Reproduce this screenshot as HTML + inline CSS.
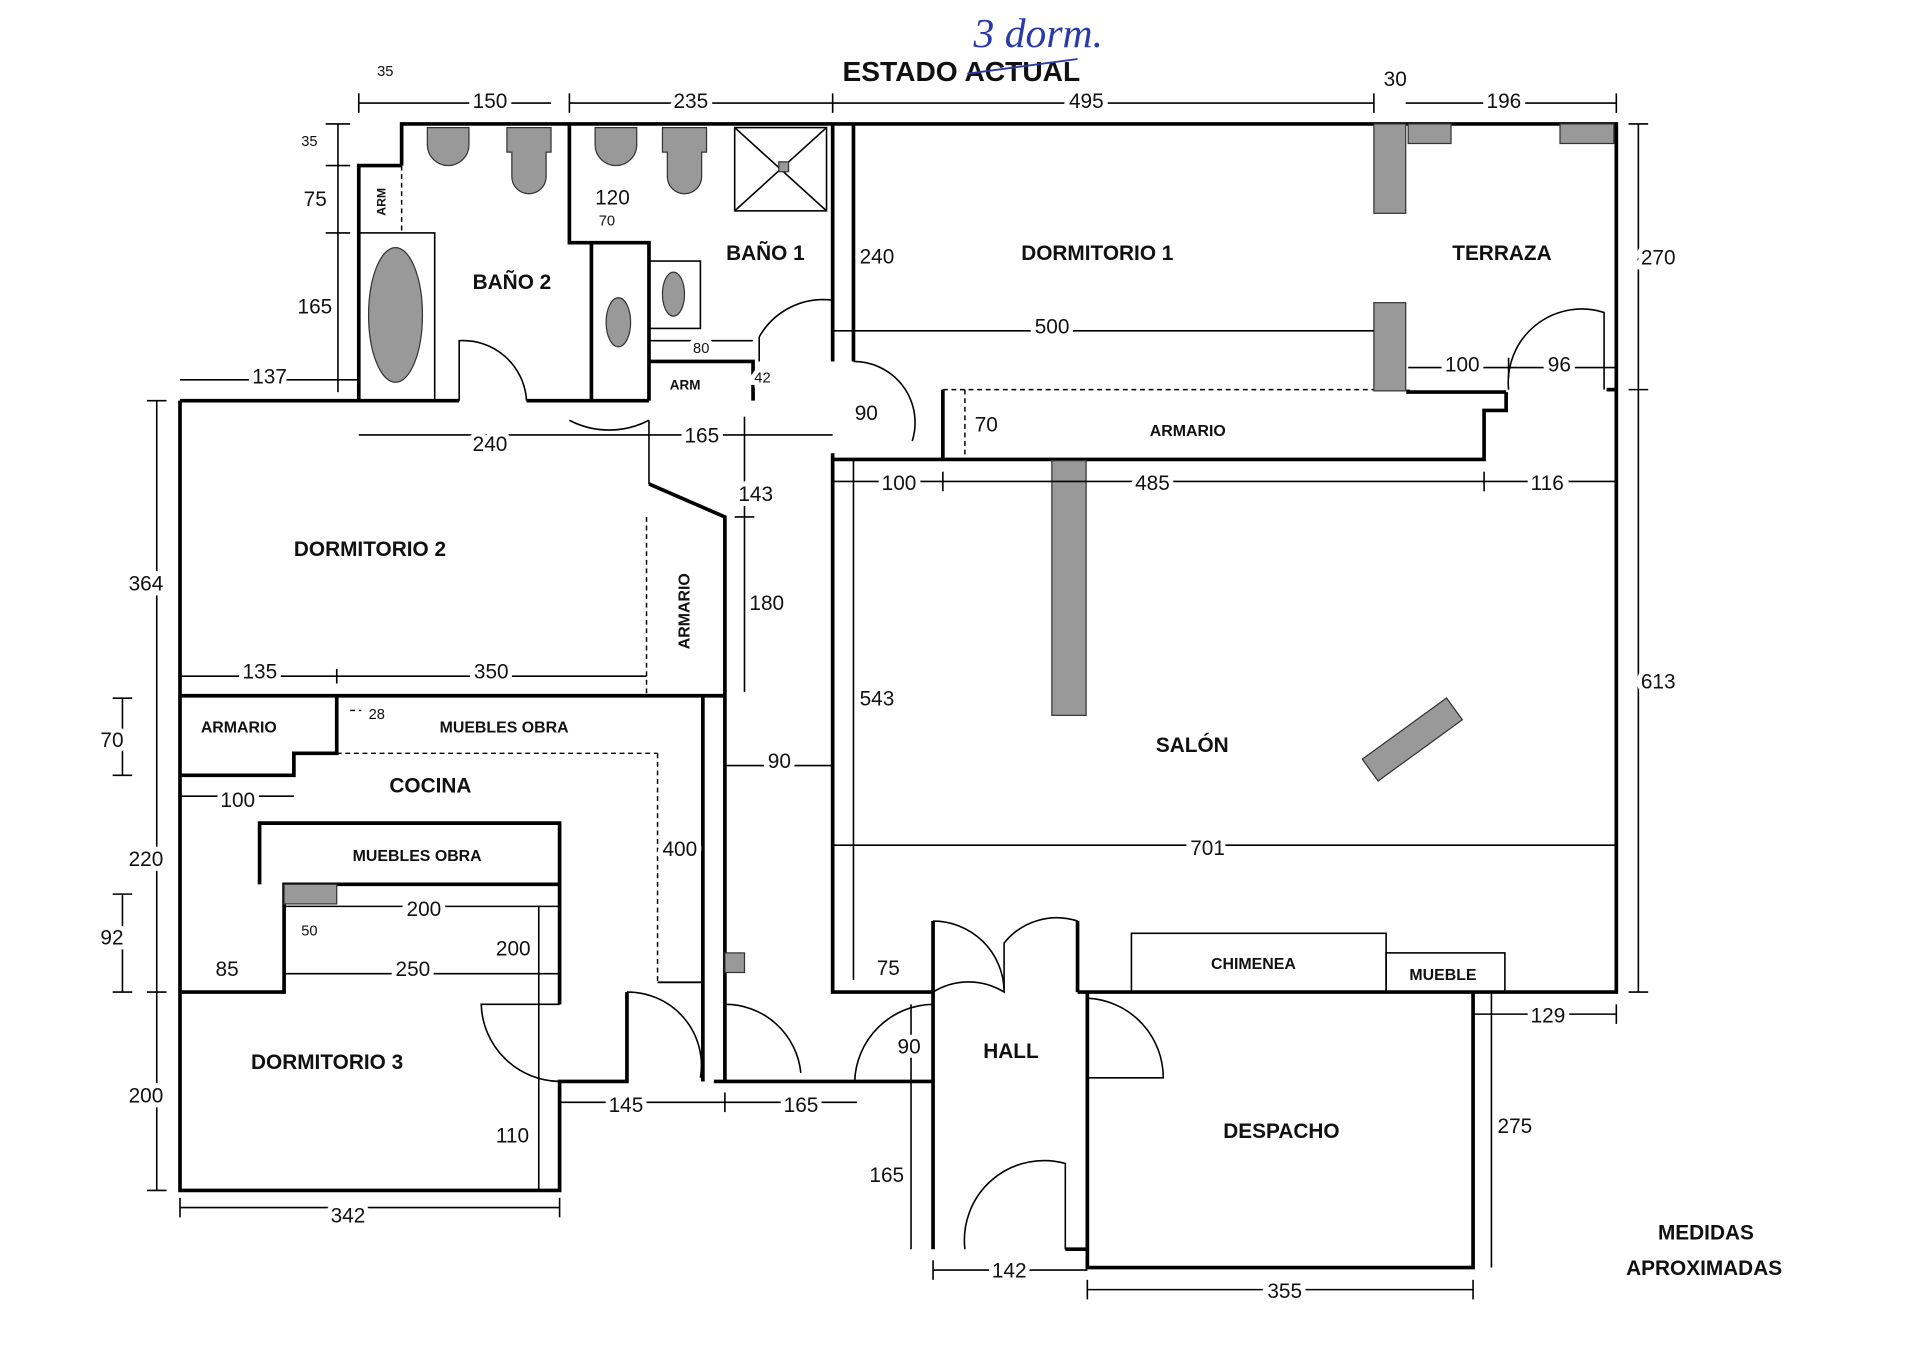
<!DOCTYPE html>
<html><head><meta charset="utf-8"><style>
html,body{margin:0;padding:0;background:#fff;}
svg{display:block}
text{font-family:"Liberation Sans",sans-serif;fill:#111}
.w{stroke:#000;stroke-width:3;fill:none}
.t{stroke:#000;stroke-width:1.3;fill:none}
.d{stroke:#000;stroke-width:1.2;fill:none;stroke-dasharray:4 3}
.g{fill:#999;stroke:#333;stroke-width:1}
.b{font-weight:bold;font-size:16px}
.s{font-size:17px}
</style></head><body>
<svg width="1920" height="1356" viewBox="0 0 1568 1107" xmlns="http://www.w3.org/2000/svg">
<rect width="1568" height="1107" fill="#fff"/>
<text x="688" y="66" font-size="23" font-weight="bold">ESTADO ACTUAL</text>
<text x="795" y="38" font-size="34" style="fill:#2a3aa8;font-family:'Liberation Serif',serif;font-style:italic">3 dorm.</text>
<line x1="790" y1="60" x2="880" y2="48" stroke="#2a3aa8" stroke-width="1.5"/>

<g class="w">
<polyline points="328,135 328,101 1320,101 1320,810 1203,810"/>
<polyline points="328,135 293,135 293,327 375,327"/>
<polyline points="430,327 530,327"/>
<polyline points="465,101 465,198 530,198 530,327"/>
<polyline points="483,198 483,327"/>
<polyline points="530,295 615,295 615,327"/>
<polyline points="680,101 680,295"/>
<polyline points="697,101 697,295"/>
<polyline points="147,327 147,972 457,972 457,883 512,883 512,810"/>
<polyline points="147,327 293,327"/>
<polyline points="530,395 592,422 592,883"/>
<polyline points="147,568 592,568"/>
<polyline points="147,633 240,633 240,615 275,615 275,568"/>
<polyline points="147,810 232,810 232,722 457,722 457,820"/>
<polyline points="212,722 212,672 457,672 457,722"/>
<polyline points="583,883 762,883"/>
<polyline points="762,1020 762,752"/>
<polyline points="680,370 680,810 762,810"/>
<polyline points="680,375 1212,375 1212,335 1230,335 1230,320"/>
<polyline points="770,375 770,318"/>
<polyline points="1150,318 1150,320 1230,320"/>
<polyline points="1312,318 1320,318"/>
<polyline points="880,810 1203,810"/>
<polyline points="888,810 888,1035 1203,1035 1203,810"/>
<polyline points="870,1020 888,1020"/>
<polyline points="880,752 880,810"/>
<polyline points="574,568 574,883"/>
</g>
<g class="t">
<rect x="924" y="762" width="208" height="48"/>
<rect x="1132" y="778" width="97" height="32"/>
<rect x="293" y="190" width="62" height="137"/>
<rect x="530" y="213" width="42" height="55"/>
<rect x="600" y="104" width="75" height="68"/>
<line x1="600" y1="104" x2="675" y2="172"/><line x1="675" y1="104" x2="600" y2="172"/>
<line x1="530" y1="278" x2="615" y2="278"/>
<line x1="697" y1="375" x2="697" y2="800"/>
</g>
<g class="d">
<line x1="328" y1="135" x2="328" y2="190"/>
<line x1="770" y1="318" x2="1130" y2="318"/>
<line x1="788" y1="318" x2="788" y2="375"/>
<line x1="528" y1="422" x2="528" y2="568"/>
<line x1="240" y1="615" x2="537" y2="615"/>
<line x1="537" y1="615" x2="537" y2="802"/>
<line x1="212" y1="672" x2="457" y2="672"/>
<line x1="286" y1="580" x2="295" y2="580"/>
</g>
<line x1="537" y1="802" x2="574" y2="802" stroke="#000" stroke-width="1.5"/>
<g class="g">
<rect x="859" y="376" width="28" height="208"/>
<rect x="1122" y="101" width="26" height="73"/>
<rect x="1150" y="101" width="35" height="16"/>
<rect x="1274" y="101" width="44" height="16"/>
<rect x="1122" y="247" width="26" height="72"/>
<rect x="1111" y="593" width="85" height="22" transform="rotate(-36 1153 604)"/>
<rect x="232" y="722" width="43" height="16"/>
<rect x="592" y="778" width="16" height="16"/>
<rect x="636" y="132" width="8" height="8"/>
<ellipse cx="323" cy="257" rx="22" ry="55"/>
<ellipse cx="505" cy="263" rx="10" ry="20"/>
<ellipse cx="550" cy="240" rx="9" ry="18"/>
<path d="M349,104h34v14a17,17 0 0 1 -34,0z"/>
<path d="M414,104h36v20h-4v20a14,14 0 0 1 -28,0v-20h-4z"/>
<path d="M486,104h34v14a17,17 0 0 1 -34,0z"/>
<path d="M541,104h36v20h-4v20a14,14 0 0 1 -28,0v-20h-4z"/>
</g>
<g class="t">
<path d="M375,327 V278 A52,52 0 0 1 430,327"/>
<path d="M530,343 A70,70 0 0 1 465,343"/>
<path d="M530,343 L530,395"/>
<path d="M620,275 A60,60 0 0 1 680,245 M620,275 L620,295"/>
<path d="M697,295 A50,50 0 0 1 745,360"/>
<path d="M1310,318 V255 A60,60 0 0 0 1232,318"/>
<path d="M762,810 A55,55 0 0 1 820,810 V770 A55,55 0 0 1 880,752"/>
<path d="M762,752 A58,58 0 0 1 820,808"/>
<path d="M698,883 A65,65 0 0 1 762,820"/>
<path d="M888,815 A65,65 0 0 1 950,880 L888,880"/>
<path d="M870,1020 V950 A65,65 0 0 0 788,1020"/>
<path d="M457,820 H393 A65,65 0 0 0 457,883"/>
<path d="M512,810 A60,60 0 0 1 572,880"/>
<path d="M592,820 A62,62 0 0 1 654,876"/>
</g>
<g class="t">
<line x1="293" y1="84" x2="450" y2="84"/><line x1="465" y1="84" x2="680" y2="84"/>
<line x1="680" y1="84" x2="1122" y2="84"/><line x1="1148" y1="84" x2="1320" y2="84"/>
<line x1="293" y1="76" x2="293" y2="92"/><line x1="465" y1="76" x2="465" y2="92"/><line x1="680" y1="76" x2="680" y2="92"/><line x1="1122" y1="76" x2="1122" y2="92"/><line x1="1320" y1="76" x2="1320" y2="92"/>
<line x1="276" y1="101" x2="276" y2="320"/><line x1="266" y1="101" x2="286" y2="101"/><line x1="266" y1="135" x2="286" y2="135"/><line x1="266" y1="190" x2="286" y2="190"/>
<line x1="147" y1="310" x2="293" y2="310"/><line x1="293" y1="355" x2="530" y2="355"/><line x1="530" y1="355" x2="680" y2="355"/>
<line x1="128" y1="327" x2="128" y2="972"/><line x1="120" y1="327" x2="136" y2="327"/><line x1="120" y1="810" x2="136" y2="810"/><line x1="120" y1="972" x2="136" y2="972"/>
<line x1="100" y1="570" x2="100" y2="633"/><line x1="92" y1="633" x2="108" y2="633"/><line x1="92" y1="570" x2="108" y2="570"/>
<line x1="100" y1="730" x2="100" y2="810"/><line x1="92" y1="730" x2="108" y2="730"/><line x1="92" y1="810" x2="108" y2="810"/>
<line x1="147" y1="552" x2="528" y2="552"/><line x1="275" y1="546" x2="275" y2="558"/>
<line x1="147" y1="650" x2="240" y2="650"/>
<line x1="232" y1="740" x2="457" y2="740"/><line x1="232" y1="795" x2="457" y2="795"/>
<line x1="147" y1="986" x2="457" y2="986"/><line x1="147" y1="978" x2="147" y2="994"/><line x1="457" y1="978" x2="457" y2="994"/>
<line x1="440" y1="740" x2="440" y2="972"/>
<line x1="457" y1="900" x2="700" y2="900"/><line x1="592" y1="892" x2="592" y2="908"/>
<line x1="608" y1="340" x2="608" y2="565"/><line x1="600" y1="422" x2="616" y2="422"/>
<line x1="592" y1="625" x2="680" y2="625"/>
<line x1="680" y1="270" x2="1122" y2="270"/>
<line x1="680" y1="393" x2="1320" y2="393"/><line x1="770" y1="385" x2="770" y2="401"/><line x1="1212" y1="385" x2="1212" y2="401"/>
<line x1="680" y1="690" x2="1320" y2="690"/>
<line x1="1150" y1="300" x2="1320" y2="300"/><line x1="1232" y1="292" x2="1232" y2="308"/>
<line x1="1338" y1="101" x2="1338" y2="810"/><line x1="1330" y1="101" x2="1346" y2="101"/><line x1="1330" y1="318" x2="1346" y2="318"/><line x1="1330" y1="810" x2="1346" y2="810"/>
<line x1="1203" y1="828" x2="1320" y2="828"/><line x1="1320" y1="820" x2="1320" y2="836"/>
<line x1="1218" y1="810" x2="1218" y2="1035"/>
<line x1="744" y1="820" x2="744" y2="1020"/>
<line x1="762" y1="1037" x2="888" y2="1037"/><line x1="762" y1="1029" x2="762" y2="1045"/>
<line x1="888" y1="1053" x2="1203" y2="1053"/><line x1="888" y1="1045" x2="888" y2="1061"/><line x1="1203" y1="1045" x2="1203" y2="1061"/>
</g>
<g class="s" style="paint-order:stroke;stroke:#fff;stroke-width:8px">
<text x="308" y="62" font-size="12">35</text>
<text x="386" y="88">150</text><text x="550" y="88">235</text><text x="873" y="88">495</text>
<text x="1130" y="70">30</text><text x="1214" y="88">196</text>
<text x="246" y="119" font-size="12">35</text><text x="248" y="168">75</text><text x="243" y="256">165</text>
<text x="206" y="313">137</text><text x="386" y="368">240</text><text x="559" y="361">165</text>
<text x="105" y="482">364</text><text x="82" y="610">70</text><text x="105" y="707">220</text><text x="82" y="771">92</text><text x="105" y="900">200</text>
<text x="198" y="554">135</text><text x="387" y="554">350</text><text x="301" y="587" font-size="12">28</text>
<text x="180" y="659">100</text><text x="332" y="748">200</text><text x="246" y="764" font-size="12">50</text>
<text x="405" y="780">200</text><text x="176" y="797">85</text><text x="323" y="797">250</text>
<text x="270" y="998">342</text><text x="405" y="933">110</text><text x="497" y="908">145</text><text x="640" y="908">165</text>
<text x="486" y="167">120</text><text x="489" y="184" font-size="12">70</text><text x="566" y="288" font-size="12">80</text><text x="616" y="312" font-size="12">42</text>
<text x="702" y="215">240</text><text x="698" y="343">90</text><text x="603" y="409">143</text><text x="612" y="498">180</text>
<text x="627" y="627">90</text><text x="541" y="699">400</text><text x="702" y="576">543</text>
<text x="845" y="272">500</text><text x="796" y="352">70</text>
<text x="720" y="400">100</text><text x="927" y="400">485</text><text x="1250" y="400">116</text>
<text x="1180" y="303">100</text><text x="1264" y="303">96</text>
<text x="1340" y="216">270</text><text x="1340" y="562">613</text>
<text x="972" y="698">701</text><text x="716" y="796">75</text><text x="733" y="860">90</text>
<text x="1250" y="835">129</text><text x="1223" y="925">275</text><text x="710" y="965">165</text>
<text x="810" y="1043">142</text><text x="1035" y="1060">355</text>
</g>
<g class="b">
<text x="386" y="236" font-size="17">BAÑO 2</text>
<text x="593" y="212" font-size="17">BAÑO 1</text>
<text x="834" y="212" font-size="17">DORMITORIO 1</text>
<text x="1186" y="212" font-size="17">TERRAZA</text>
<text x="939" y="356" font-size="13">ARMARIO</text>
<text x="240" y="454" font-size="17">DORMITORIO 2</text>
<text x="164" y="598" font-size="13">ARMARIO</text>
<text x="359" y="598" font-size="13">MUEBLES OBRA</text>
<text x="318" y="647" font-size="17">COCINA</text>
<text x="288" y="703" font-size="13">MUEBLES OBRA</text>
<text x="944" y="614" font-size="17">SALÓN</text>
<text x="205" y="873" font-size="17">DORMITORIO 3</text>
<text x="803" y="864" font-size="17">HALL</text>
<text x="999" y="929" font-size="17">DESPACHO</text>
<text x="989" y="791" font-size="13">CHIMENEA</text>
<text x="1151" y="800" font-size="13">MUEBLE</text>
<text x="547" y="318" font-size="11">ARM</text>
<text x="1354" y="1012" font-size="17">MEDIDAS</text>
<text x="1328" y="1041" font-size="17">APROXIMADAS</text>
<text transform="translate(315,176) rotate(-90)" font-size="10">ARM</text>
<text transform="translate(563,530) rotate(-90)" font-size="13">ARMARIO</text>
</g>
</svg>
</body></html>
